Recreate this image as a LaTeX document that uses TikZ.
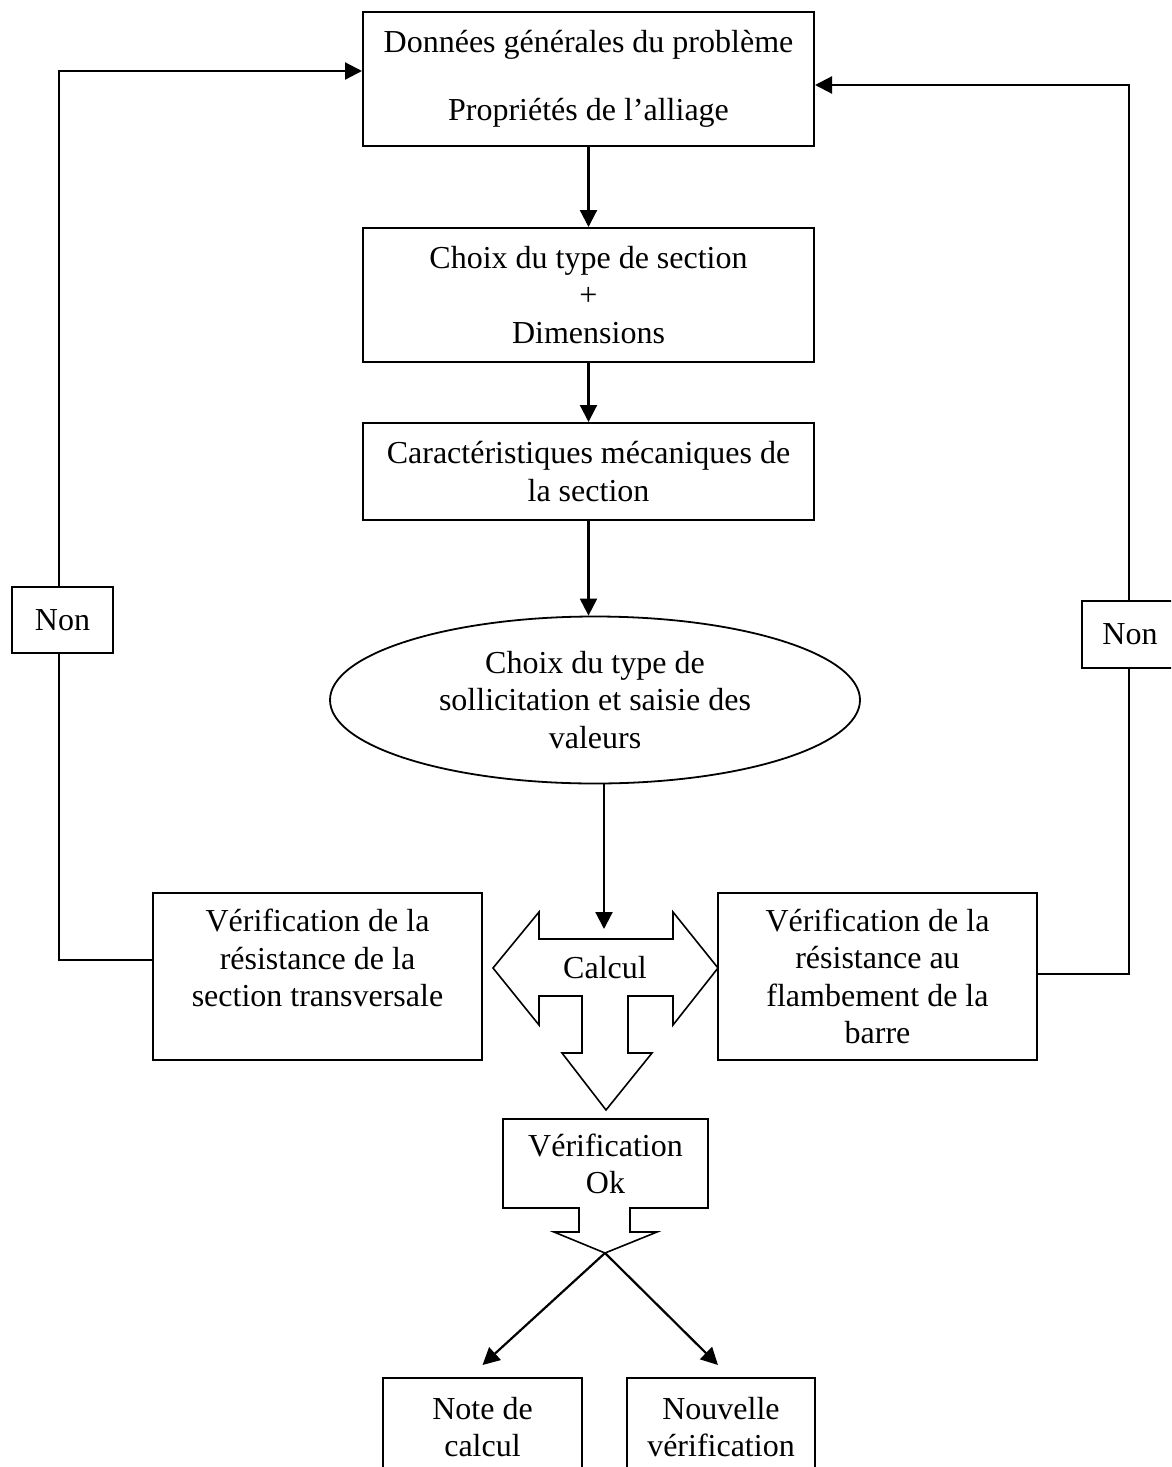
\documentclass[tikz,border=0pt]{standalone}
\usepackage{fontspec}
\setmainfont{Liberation Serif}
\usetikzlibrary{arrows.meta,shapes.geometric,calc}
\begin{document}
\begin{tikzpicture}[x=1pt,y=-1pt,
  every node/.style={font=\fontsize{32}{37.5}\selectfont, align=center, inner sep=0pt},
  box/.style={draw, line width=2pt, fill=white, rectangle},
  flow/.style={draw, line width=2.2pt, -{Triangle[length=17pt,width=17pt]}},
  plain/.style={draw, line width=2pt},
  thin/.style={draw, line width=1.6pt, line join=miter}]
\useasboundingbox (0,0) rectangle (1171,1467);
\clip (0,0) rectangle (1171,1467);

% main column
\node[box, minimum width=451, minimum height=134] (top) at (588.5,79)
  {Données générales du problème\\[31pt]Propriétés de l’alliage};
\node[box, minimum width=451, minimum height=134] (b2) at (588.5,295)
  {Choix du type de section\\+\\Dimensions};
\node[box, minimum width=451, minimum height=97] (b3) at (588.5,471.5)
  {Caractéristiques mécaniques de\\la section};
\node[ellipse, draw, line width=1.8pt, minimum width=530, minimum height=167] (ell) at (595,700)
  {Choix du type de\\sollicitation et saisie des\\valeurs};

% side boxes
\node[box, minimum width=329, minimum height=167] (lbox) at (317.5,976.5)
  {Vérification de la\\résistance de la\\section transversale\\\mbox{}};
\node[box, minimum width=319, minimum height=167] (rbox) at (877.5,976.5)
  {Vérification de la\\résistance au\\flambement de la\\barre};

% calcul arrow shape
\draw[thin] (493,968) -- (539,912) -- (539,939) -- (673,939) -- (673,912) -- (718,968)
  -- (673,1025) -- (673,996) -- (628,996) -- (628,1053) -- (652,1053) -- (606,1110)
  -- (562,1053) -- (582,1053) -- (582,996) -- (539,996) -- (539,1025) -- cycle;
\node (calcul) at (605,968) {Calcul};
\coordinate (ctop) at (604,929);

% verification callout
\draw[thin] (503,1119) -- (708,1119) -- (708,1208) -- (630,1208) -- (630,1232) -- (657,1232)
  -- (605,1253) -- (554,1232) -- (579,1232) -- (579,1208) -- (503,1208) -- cycle;
\node (verif) at (605.5,1164) {Vérification\\Ok};
\coordinate (vtip) at (605,1253);

% bottom boxes
\node[box, minimum width=199, minimum height=98] (note) at (482.5,1427) {Note de\\calcul};
\node[box, minimum width=188, minimum height=98] (nouv) at (721,1427) {Nouvelle\\vérification};

% Non boxes
\node[box, minimum width=101, minimum height=66] (non1) at (62.5,620) {Non};
\node[box, minimum width=96, minimum height=67] (non2) at (1130,634.5) {Non};

% vertical flow
\draw[flow] (top.south) -- (b2.north);
\draw[flow] (b2.south) -- (b3.north);
\draw[flow] (b3.south) -- (b3.south |- ell.north);
\draw[flow] (ctop |- ell.south) -- (ctop);

% bottom arrows
\draw[flow] (vtip) -- ($(note.north)+(0,-12)$);
\draw[flow] (vtip) -- ($(nouv.north)+(-3,-12)$);

% left feedback
\coordinate (lfb) at (59,960);
\coordinate (ltop) at (59,71);
\draw[plain] (lbox.west |- lfb) -- (lfb) -- (lfb |- non1.south);
\draw[flow] (ltop |- non1.north) -- (ltop) -- (top.west |- ltop);

% right feedback
\coordinate (rfb) at (1129,974);
\coordinate (rtop) at (1129,85);
\draw[plain] (rbox.east |- rfb) -- (rfb) -- (rfb |- non2.south);
\draw[flow] (rfb |- non2.north) -- (rtop) -- (top.east |- rtop);
\end{tikzpicture}
\end{document}
